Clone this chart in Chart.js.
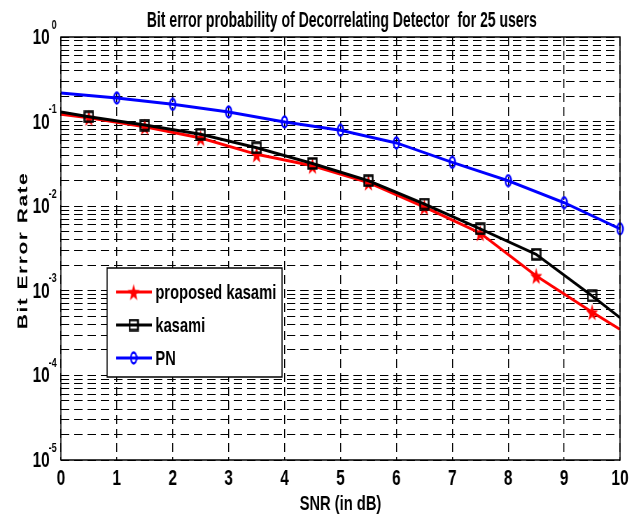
<!DOCTYPE html>
<html>
<head>
<meta charset="utf-8">
<script src="https://cdn.jsdelivr.net/npm/chart.js@4.4.1/dist/chart.umd.min.js"></script>
<style>
    html, body { margin: 0; padding: 0; overflow: hidden; background: #fff; }
    /* 原圖被水平壓縮過，這裡用 scaleX 重現 */
    #wrap { width: 916px; height: 524px; transform: scaleX(0.6998); transform-origin: 0 0; }
</style>
</head>
<body>
<div id="wrap"><canvas id="ber" width="916" height="524"></canvas></div>
<script>
// 資料
const kasamiSnr = [0, 0.5, 1.5, 2.5, 3.5, 4.5, 5.5, 6.5, 7.5, 8.5, 9.5, 10];
const proposedBer = [0.122, 0.111, 0.087, 0.064, 0.041, 0.030, 0.019, 0.0098, 0.0048, 0.0015, 0.00056, 0.00035];
const kasamiBer = [0.130, 0.114, 0.091, 0.071, 0.049, 0.032, 0.020, 0.0106, 0.0054, 0.0027, 0.00087, 0.00048];
const pnSnr = [0, 1, 2, 3, 4, 5, 6, 7, 8, 9, 10];
const pnBer = [0.218, 0.190, 0.160, 0.130, 0.099, 0.079, 0.056, 0.033, 0.020, 0.011, 0.0054];

const yExponents = [0, -1, -2, -3, -4, -5];
const yMinorFactors = [2, 3, 4, 5, 6, 7, 8, 9];
const seriesNames = ['proposed kasami', 'kasami', 'PN'];
const chartTitle = 'Bit error probability of Decorrelating Detector  for 25 users';
const xTitle = 'SNR (in dB)';
const yTitle = 'Bit Error Rate';

const FONT = '"Liberation Sans", Arial, sans-serif';

// 標記圖形
function makeStar(color, w, h) {
    const c = document.createElement('canvas');
    c.width = w; c.height = h;
    const g = c.getContext('2d');
    g.beginPath();
    for (let i = 0; i < 10; i++) {
        const r = i % 2 === 0 ? 1 : 0.42;
        const ang = -Math.PI / 2 + i * Math.PI / 5;
        const px = w / 2 + Math.cos(ang) * r * (w / 2 - 0.5);
        const py = h / 2 + Math.sin(ang) * r * (h / 2 - 0.5) + 1;
        if (i === 0) g.moveTo(px, py); else g.lineTo(px, py);
    }
    g.closePath();
    g.fillStyle = color;
    g.fill();
    return c;
}

function makeSquare(color, w, h) {
    const c = document.createElement('canvas');
    c.width = w; c.height = h;
    const g = c.getContext('2d');
    g.strokeStyle = color;
    g.lineWidth = 2.5;
    g.strokeRect(1.5, 1.5, w - 3, h - 3);
    return c;
}

function makeCircle(color, w, h) {
    const c = document.createElement('canvas');
    c.width = w; c.height = h;
    const g = c.getContext('2d');
    g.strokeStyle = color;
    g.lineWidth = 2.5;
    g.beginPath();
    g.ellipse(w / 2, h / 2, w / 2 - 1.5, h / 2 - 1.5, 0, 0, Math.PI * 2);
    g.stroke();
    return c;
}

const starImg = makeStar('#ff0000', 19, 19);
const squareImg = makeSquare('#000000', 15, 13);
const circleImg = makeCircle('#0000ff', 11, 14);

const markerRadius = pts => pts.map((_, i) => (i === 0 || i === pts.length - 1) ? 0 : 5);

// 對數軸：主刻度 10^n 與每個 decade 的次刻度
const yTickValues = yExponents.map(e => Math.pow(10, e));
yExponents.slice(1).forEach(e => {
    yMinorFactors.forEach(m => yTickValues.push(m * Math.pow(10, e)));
});
yTickValues.sort((a, b) => a - b);

const decorations = {
    id: 'decorations',
    afterDatasetsDraw(chart) {
        const { ctx, chartArea: a } = chart;
        // 圖例
        const bx = a.left + 66, by = 268, bw = 250, bh = 109;
        ctx.save();
        ctx.fillStyle = '#fff';
        ctx.fillRect(bx, by, bw, bh);
        ctx.strokeStyle = '#000';
        ctx.lineWidth = 1.5;
        ctx.strokeRect(bx, by, bw, bh);
        const colors = ['#ff0000', '#000000', '#0000ff'];
        const imgs = [starImg, squareImg, circleImg];
        ctx.font = 'bold 21px ' + FONT;
        ctx.textAlign = 'left';
        ctx.textBaseline = 'middle';
        seriesNames.forEach((name, i) => {
            const ry = by + 24 + i * 33;
            ctx.strokeStyle = colors[i];
            ctx.lineWidth = 3;
            ctx.beginPath();
            ctx.moveTo(bx + 13, ry);
            ctx.lineTo(bx + 64, ry);
            ctx.stroke();
            ctx.drawImage(imgs[i], bx + 38 - imgs[i].width / 2, ry - imgs[i].height / 2);
            ctx.fillStyle = '#000';
            ctx.fillText(name, bx + 69, ry + 1);
        });
        ctx.restore();
    },
    afterDraw(chart) {
        const { ctx, chartArea: a, scales: { y } } = chart;
        ctx.save();
        ctx.strokeStyle = '#000';
        ctx.lineWidth = 1.5;
        ctx.setLineDash([]);
        ctx.strokeRect(a.left, a.top, a.right - a.left, a.bottom - a.top);

        ctx.fillStyle = '#000';
        // 標題（原圖字形較窄）
        ctx.save();
        ctx.translate((a.left + a.right) / 2 + 2, 26.5);
        ctx.scale(0.91, 1);
        ctx.font = 'bold 22px ' + FONT;
        ctx.textAlign = 'center';
        ctx.textBaseline = 'alphabetic';
        ctx.fillText(chartTitle, 0, 0);
        ctx.restore();

        // y 軸刻度 10^n
        yExponents.forEach(e => {
            const py = y.getPixelForValue(Math.pow(10, e));
            ctx.font = 'bold 22px ' + FONT;
            ctx.textAlign = 'right';
            ctx.textBaseline = 'middle';
            ctx.fillText('10', a.left - 16, py + 1);
            ctx.font = 'bold 13px ' + FONT;
            ctx.fillText(String(e), a.left - 6, py - 12);
        });

        // y 軸標題
        ctx.translate(38.5, (a.top + a.bottom) / 2 + 2);
        ctx.rotate(-Math.PI / 2);
        ctx.font = 'bold 21px ' + FONT;
        ctx.letterSpacing = '1.5px';
        ctx.textAlign = 'center';
        ctx.textBaseline = 'alphabetic';
        ctx.fillText(yTitle, 0, 0);
        ctx.restore();
    }
};

new Chart(document.getElementById('ber'), {
    type: 'line',
    data: {
        datasets: [
            {
                label: seriesNames[0],
                data: kasamiSnr.map((s, i) => ({ x: s, y: proposedBer[i] })),
                borderColor: '#ff0000',
                borderWidth: 3,
                pointStyle: starImg,
                pointRadius: markerRadius(kasamiSnr),
                order: 3
            },
            {
                label: seriesNames[1],
                data: kasamiSnr.map((s, i) => ({ x: s, y: kasamiBer[i] })),
                borderColor: '#000000',
                borderWidth: 3,
                pointStyle: squareImg,
                pointRadius: markerRadius(kasamiSnr),
                order: 2
            },
            {
                label: seriesNames[2],
                data: pnSnr.map((s, i) => ({ x: s, y: pnBer[i] })),
                borderColor: '#0000ff',
                borderWidth: 3,
                pointStyle: circleImg,
                pointRadius: pnSnr.map((_, i) => i === 0 ? 0 : 5),
                clip: false,
                order: 1
            }
        ]
    },
    options: {
        responsive: false,
        animation: false,
        layout: { padding: { left: 0, right: 30, top: 37, bottom: 0 } },
        plugins: {
            legend: { display: false },
            title: { display: false },
            tooltip: { enabled: false }
        },
        scales: {
            x: {
                type: 'linear',
                min: 0,
                max: 10,
                afterFit: scale => { scale.height = 64; },
                ticks: {
                    stepSize: 1,
                    padding: 6,
                    color: '#000',
                    font: { family: FONT, size: 22, weight: 'bold' }
                },
                grid: { color: '#000', lineWidth: 1.4, drawTicks: false, borderDash: [9, 5] },
                border: { display: false, dash: [9, 5] },
                title: {
                    display: true,
                    text: xTitle,
                    color: '#000',
                    font: { family: FONT, size: 21, weight: 'bold' },
                    padding: { top: 0, bottom: 7 }
                }
            },
            y: {
                type: 'logarithmic',
                min: 1e-5,
                max: 1,
                afterFit: scale => { scale.width = 87; },
                afterBuildTicks: scale => { scale.ticks = yTickValues.map(v => ({ value: v })); },
                ticks: { display: false },
                grid: { color: '#000', lineWidth: 1, drawTicks: false, borderDash: [12, 7] },
                border: { display: false, dash: [12, 7] }
            }
        }
    },
    plugins: [decorations]
});
</script>
</body>
</html>
